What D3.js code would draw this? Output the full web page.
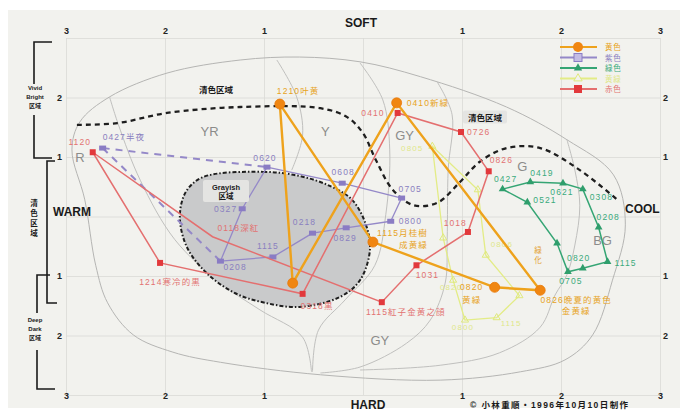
<!DOCTYPE html>
<html>
<head>
<meta charset="utf-8">
<script src="https://cdn.jsdelivr.net/npm/d3@7"></script>
<style>
  html, body { margin: 0; padding: 0; background: #ffffff; }
  svg { display: block; font-family: "Liberation Sans", "Noto Sans CJK JP", sans-serif; }
</style>
</head>
<body>
<svg id="chart" width="684" height="411"></svg>
<script>
// ---- axes: x runs WARM (-3) .. COOL (+3), y runs HARD (-3) .. SOFT (+3)
const tickValues = [-3, -2, -1, 0, 1, 2, 3];
const tickLabels = ["3", "2", "1", "", "1", "2", "3"];
const sideTickValues = [-2, -1, 1, 2];
const sideTickLabels = ["2", "1", "1", "2"];

// ---- legend
const seriesNames = ["黄色", "紫色", "緑色", "黄緑", "赤色"];

// ---- orange series (closed route)
const orangeX = [-0.84, -0.71, 0.34, 1.79, 1.33, 0.10];
const orangeY = [1.89, -1.12, 1.91, -1.24, -1.19, -0.43];
const orangeLabels = ["1210叶黄", "", "0410新緑", "0826晩夏的黄色\n金黄緑", "0820\n黄緑", "1115月桂樹\n成黄緑"];

// ---- red series (closed route)
const redX = [-2.73, -1.52, 0.19, 0.54, 1.06, 1.27, 0.99, 0.35, -0.61, -2.05];
const redY = [1.08, -0.34, -1.44, -0.82, -0.26, 0.76, 1.42, 1.74, -1.30, -0.78];
const redLabels = ["1120", "0118深紅", "1115紅子金黄之顔", "1031", "1018", "0826", "0726", "0410", "0318黒", "1214寒冷的黒"];
const redMarked = [true, false, true, true, true, true, true, true, true, true];

// ---- purple series (points + links, some links dashed)
const purpleX = [-2.63, -0.97, -1.22, -1.44, -0.91, -0.51, -0.17, 0.28, 0.39, -0.21];
const purpleY = [1.15, 0.83, 0.13, -0.75, -0.68, -0.28, -0.19, -0.08, 0.31, 0.56];
const purpleLabels = ["0427半夜", "0620", "0327", "0208", "1115", "0218", "0829", "0800", "0705", "0608"];
const purpleLinks = [[0, 1, true], [0, 3, true], [1, 2, false], [2, 3, false], [3, 4, false],
                     [4, 5, false], [5, 6, false], [6, 7, false], [7, 8, false], [8, 9, false], [9, 1, false]];

// ---- green series (closed route)
const greenX = [1.41, 1.69, 2.02, 2.22, 2.38, 2.47, 2.22, 2.07, 1.96, 1.66];
const greenY = [0.46, 0.58, 0.56, 0.46, -0.18, -0.76, -0.87, -0.93, -0.45, 0.24];
const greenLabels = ["0427", "0419", "0621", "0308", "0208", "1115", "0820", "0705", "", "0521"];

// ---- pale yellow-green series (closed route)
const yellowX = [0.70, 1.16, 1.24, 1.58, 1.35, 1.03, 0.91, 0.81];
const yellowY = [1.18, 0.45, -0.65, -1.33, -1.70, -1.74, -1.07, -0.36];
const yellowLabels = ["0805", "", "0806", "", "1115", "0800", "0820", ""];

// ---- tone / hue regions
const outerShape = [[-2.94,1.12],[-2.86,1.59],[-2.56,2.01],[-1.98,2.41],[-1.24,2.63],[-0.64,2.68],[-0.03,2.60],
  [0.58,2.35],[1.45,1.84],[2.06,1.29],[2.53,0.70],[2.65,-0.14],[2.52,-1.07],[2.32,-1.99],[2.04,-2.41],
  [1.59,-2.61],[0.78,-2.75],[-0.43,-2.66],[-1.44,-2.45],[-1.92,-2.28],[-2.32,-1.99],[-2.58,-1.45],
  [-2.70,-0.82],[-2.81,0.28]];
const hueBorders = [
  [[-2.56,2.01],[-2.47,1.54],[-2.25,0.61],[-1.90,-0.39],[-1.44,-1.12],[-1.04,-1.57],[-0.61,-2.03],[-0.52,-2.61]],
  [[-0.87,2.63],[-0.67,2.01],[-0.61,1.37],[-0.72,0.78]],
  [[-0.03,2.58],[0.20,1.96],[0.27,1.12],[0.23,0.03],[0.12,-0.82],[-0.18,-1.40],[-0.45,-1.91],[-0.51,-2.61]],
  [[0.75,2.26],[0.90,1.71],[0.86,0.78],[0.85,-0.39],[0.83,-1.12],[0.68,-1.74],[0.44,-2.13],[-0.03,-2.53],[-0.43,-2.63]],
  [[2.06,1.29],[2.14,0.78],[2.19,0.19],[2.14,-0.48],[2.06,-0.98],[1.94,-1.32],[1.79,-1.86],[1.38,-2.29],[0.78,-2.50],[-0.03,-2.58]]
];
const clearToneBorder = [[-2.89,1.54],[-2.48,1.57],[-1.98,1.74],[-1.24,1.84],[-0.43,1.82],[-0.16,1.67],[0.00,1.40],
  [0.13,0.95],[0.30,0.45],[0.51,0.19],[0.75,0.23],[0.98,0.58],[1.18,0.92],[1.45,1.15],[1.79,1.15],[2.19,0.78],[2.57,0.28]];
const grayishShape = [[-1.62,0.66],[-1.01,0.75],[-0.64,0.68],[-0.33,0.51],[-0.11,0.28],[0.03,-0.14],[0.07,-0.56],
  [-0.03,-1.07],[-0.23,-1.35],[-0.64,-1.52],[-0.99,-1.45],[-1.29,-1.29],[-1.58,-0.95],[-1.78,-0.51],[-1.85,0.00],[-1.79,0.41]];
const hueNames = ["R", "YR", "Y", "GY", "G", "BG", "GY"];
const hueAt = [[-2.86,1.00],[-1.55,1.44],[-0.38,1.44],[0.42,1.37],[1.61,0.85],[2.42,-0.39],[0.17,-2.08]];

// ---- label placement [dx, dy, anchor]
const orangeLabelPos = [[-3,-10,"start"],[0,0,"start"],[10,3,"start"],[36,13,"middle"],[-23,3,"middle"],[55,-6,"end"]];
const orangeLineGap = [0, 0, 0, 11, 13, 12];
const redLabelPos = [[-13,-7,"middle"],[5,-6,"start"],[24,13,"middle"],[11,13,"middle"],[-1,-6,"end"],
  [1,-8,"start"],[6,3,"start"],[-13,3,"end"],[-2,15,"start"],[10,22,"middle"]];
const purpleLabelPos = [[0,-8,"start"],[-2,-6,"middle"],[-5,3,"end"],[3,9,"start"],[-5,-8,"middle"],
  [-8,-8,"middle"],[-1,13,"middle"],[8,3,"start"],[-3,-6,"start"],[1,-8,"middle"]];
const greenLabelPos = [[3,-7,"middle"],[0,-6,"start"],[-1,12,"middle"],[7,11,"start"],[-2,-7,"start"],
  [7,4,"start"],[-4,-7,"middle"],[3,12,"middle"],[0,0,"start"],[6,1,"start"]];
const yellowLabelPos = [[-9,5,"end"],[0,0,"start"],[5,-8,"start"],[0,0,"start"],[4,8,"start"],[-2,10,"middle"],[-2,10,"middle"],[0,0,"start"]];

const svg = d3.select("#chart");
const x = d3.scaleLinear().domain([-3, 3]).range([66, 660]);
const y = d3.scaleLinear().domain([-3, 3]).range([395, 38]);

// paper
svg.append("rect").attr("x", 8).attr("y", 10).attr("width", 672).attr("height", 398).attr("fill", "#f2f2ee");

// grid
const gridX = svg.append("g").attr("transform", `translate(0,${y(-3)})`)
  .call(d3.axisBottom(x).tickValues(tickValues).tickSize(-(y(-3) - y(3))).tickFormat(""));
const gridY = svg.append("g").attr("transform", `translate(${x(-3)},0)`)
  .call(d3.axisLeft(y).tickValues(tickValues).tickSize(-(x(3) - x(-3))).tickFormat(""));
[gridX, gridY].forEach(g => {
  g.select(".domain").remove();
  g.selectAll("line").attr("stroke", "#d9d9d5").attr("stroke-width", 0.8);
});

// tick labels
function styleTicks(g) {
  g.select(".domain").remove();
  g.selectAll("text").attr("font-size", 9).attr("font-weight", "bold").attr("fill", "#222")
    .attr("font-family", "Liberation Sans, sans-serif");
}
svg.append("g").attr("transform", `translate(0,${y(3) - 1})`)
  .call(d3.axisTop(x).tickValues(tickValues).tickSize(0).tickPadding(3).tickFormat((d, i) => tickLabels[i])).call(styleTicks);
svg.append("g").attr("transform", `translate(0,${y(-3) - 2})`)
  .call(d3.axisBottom(x).tickValues(tickValues).tickSize(0).tickPadding(0).tickFormat((d, i) => tickLabels[i])).call(styleTicks);
svg.append("g").attr("transform", `translate(${x(-3) - 2},0)`)
  .call(d3.axisLeft(y).tickValues(sideTickValues).tickSize(0).tickPadding(2).tickFormat((d, i) => sideTickLabels[i])).call(styleTicks);
svg.append("g").attr("transform", `translate(${x(3) + 1},0)`)
  .call(d3.axisRight(y).tickValues(sideTickValues).tickSize(0).tickPadding(2).tickFormat((d, i) => sideTickLabels[i])).call(styleTicks);

const smooth = d3.line().x(d => x(d[0])).y(d => y(d[1])).curve(d3.curveCatmullRom.alpha(0.5));
const smoothClosed = d3.line().x(d => x(d[0])).y(d => y(d[1])).curve(d3.curveCatmullRomClosed.alpha(0.5));

// hue / tone map outlines
svg.append("path").attr("d", smoothClosed(outerShape)).attr("fill", "none").attr("stroke", "#b5b5b3").attr("stroke-width", 1);
hueBorders.forEach(b => svg.append("path").attr("d", smooth(b)).attr("fill", "none").attr("stroke", "#c0c0be").attr("stroke-width", 1));

// grayish zone
svg.append("path").attr("d", smoothClosed(grayishShape)).attr("fill", "#c9cacb")
  .attr("stroke", "#1e1e1e").attr("stroke-width", 2).attr("stroke-dasharray", "4,2,1.5,2");

// hue letters
hueNames.forEach((h, i) => {
  svg.append("text").attr("x", x(hueAt[i][0])).attr("y", y(hueAt[i][1]) + 5).attr("text-anchor", "middle")
    .attr("font-size", 13).attr("fill", "#8c8c8a").text(h);
});

// clear-tone boundary
svg.append("path").attr("d", smooth(clearToneBorder)).attr("fill", "none").attr("stroke", "#1e1e1e")
  .attr("stroke-width", 2.3).attr("stroke-dasharray", "5,4");

function addLabel(px, py, text, pos, gap, color, size) {
  const lines = text.split("\n");
  lines.forEach((ln, k) => {
    svg.append("text").attr("x", px + pos[0]).attr("y", py + pos[1] + k * (gap || 11))
      .attr("text-anchor", pos[2]).attr("font-size", size || 8.5).attr("letter-spacing", 1.1)
      .attr("fill", color).text(ln);
  });
}

// pale yellow-green
const yellowPts = yellowX.map((v, i) => [v, yellowY[i]]);
svg.append("path").attr("d", d3.line().x(d => x(d[0])).y(d => y(d[1])).curve(d3.curveLinearClosed)(yellowPts))
  .attr("fill", "none").attr("stroke", "#e3ec86").attr("stroke-width", 1.3);
yellowPts.forEach((p, i) => {
  svg.append("path").attr("d", d3.symbol(d3.symbolTriangle, 22)()).attr("transform", `translate(${x(p[0])},${y(p[1])})`)
    .attr("fill", "none").attr("stroke", "#dfe97c").attr("stroke-width", 1);
  if (yellowLabels[i]) addLabel(x(p[0]), y(p[1]), yellowLabels[i], yellowLabelPos[i], 11, "#dfe78a", 8);
});

// purple
const purplePts = purpleX.map((v, i) => [v, purpleY[i]]);
purpleLinks.forEach(([a, b, dashed]) => {
  svg.append("line").attr("x1", x(purplePts[a][0])).attr("y1", y(purplePts[a][1]))
    .attr("x2", x(purplePts[b][0])).attr("y2", y(purplePts[b][1]))
    .attr("stroke", "#9488c8").attr("stroke-width", dashed ? 2 : 1.3)
    .attr("stroke-dasharray", dashed ? "7,6" : null);
});
purplePts.forEach((p, i) => {
  svg.append("rect").attr("x", x(p[0]) - 3.5).attr("y", y(p[1]) - 2.5).attr("width", 7).attr("height", 5)
    .attr("fill", "#8a7cc4");
  addLabel(x(p[0]), y(p[1]), purpleLabels[i], purpleLabelPos[i], 11, "#8a80c0");
});

// red
const redPts = redX.map((v, i) => [v, redY[i]]);
svg.append("path").attr("d", d3.line().x(d => x(d[0])).y(d => y(d[1])).curve(d3.curveLinearClosed)(redPts))
  .attr("fill", "none").attr("stroke", "#e46f6f").attr("stroke-width", 1.5);
redPts.forEach((p, i) => {
  if (redMarked[i]) svg.append("rect").attr("x", x(p[0]) - 3).attr("y", y(p[1]) - 3).attr("width", 6).attr("height", 6)
    .attr("fill", "#e2393c");
  addLabel(x(p[0]), y(p[1]), redLabels[i], redLabelPos[i], 11, "#e27272");
});

// green
const greenPts = greenX.map((v, i) => [v, greenY[i]]);
svg.append("path").attr("d", d3.line().x(d => x(d[0])).y(d => y(d[1])).curve(d3.curveLinearClosed)(greenPts))
  .attr("fill", "none").attr("stroke", "#35a574").attr("stroke-width", 1.5);
greenPts.forEach((p, i) => {
  svg.append("path").attr("d", d3.symbol(d3.symbolTriangle, 26)()).attr("transform", `translate(${x(p[0])},${y(p[1])})`)
    .attr("fill", "#2f9e6c");
  if (greenLabels[i]) addLabel(x(p[0]), y(p[1]), greenLabels[i], greenLabelPos[i], 11, "#3aaa7c");
});

// orange
const orangePts = orangeX.map((v, i) => [v, orangeY[i]]);
svg.append("path").attr("d", d3.line().x(d => x(d[0])).y(d => y(d[1])).curve(d3.curveLinearClosed)(orangePts))
  .attr("fill", "none").attr("stroke", "#eea21c").attr("stroke-width", 2.4);
orangePts.forEach((p, i) => {
  svg.append("circle").attr("cx", x(p[0])).attr("cy", y(p[1])).attr("r", 5)
    .attr("fill", "#f08612").attr("stroke", "#e87a0a").attr("stroke-width", 0.8);
  if (orangeLabels[i]) addLabel(x(p[0]), y(p[1]), orangeLabels[i], orangeLabelPos[i], orangeLineGap[i], "#e7a222", 8.5);
});
svg.append("text").attr("x", 538).attr("y", 253).attr("text-anchor", "middle").attr("font-size", 7.5).attr("fill", "#e3a030").text("緑");
svg.append("text").attr("x", 538).attr("y", 263).attr("text-anchor", "middle").attr("font-size", 7.5).attr("fill", "#e3a030").text("化");

// zone captions
function caption(cx, cy, lines, size, boxed) {
  const g = svg.append("g");
  if (boxed) g.append("rect").attr("x", cx - boxed[0] / 2).attr("y", cy - boxed[1] / 2 - 1)
    .attr("width", boxed[0]).attr("height", boxed[1]).attr("fill", "#e4e4e2").attr("rx", 2);
  lines.forEach((ln, k) => g.append("text").attr("x", cx).attr("y", cy + (k - (lines.length - 1) / 2) * (size + 1) + size * 0.35)
    .attr("text-anchor", "middle").attr("font-size", size).attr("font-weight", "bold").attr("fill", "#1a1a1a").text(ln));
}
caption(216, 90, ["清色区域"], 8.5, null);
caption(485, 118, ["清色区域"], 8.5, [44, 13]);
caption(226, 192, ["Grayish", "区域"], 7.5, [46, 22]);

// axis titles
svg.append("text").attr("x", 361).attr("y", 27).attr("text-anchor", "middle").attr("font-size", 12).attr("font-weight", "bold").attr("fill", "#1a1a1a").text("SOFT");
svg.append("text").attr("x", 368).attr("y", 409).attr("text-anchor", "middle").attr("font-size", 12).attr("font-weight", "bold").attr("fill", "#1a1a1a").text("HARD");
svg.append("text").attr("x", 53).attr("y", 216).attr("font-size", 12).attr("font-weight", "bold").attr("fill", "#1a1a1a").text("WARM");
svg.append("text").attr("x", 625).attr("y", 213).attr("font-size", 12).attr("font-weight", "bold").attr("fill", "#1a1a1a").text("COOL");
svg.append("text").attr("x", 470).attr("y", 408).attr("font-size", 8.5).attr("letter-spacing", 1.4).attr("font-weight", "bold").attr("fill", "#1a1a1a").text("© 小林重順・1996年10月10日制作");

// tone brackets on the left
const bracket = svg.append("g").attr("fill", "none").attr("stroke", "#1a1a1a").attr("stroke-width", 1.6);
bracket.append("path").attr("d", "M52,42 H34 V84 M34,115 V158 H52");
bracket.append("path").attr("d", "M55,161 H47 V303 H57");
bracket.append("path").attr("d", "M50,275 H37 V313 M37,350 V389 H55");
[["Vivid", 90], ["Bright", 99], ["区域", 108]].forEach(([t, yy]) =>
  svg.append("text").attr("x", 35).attr("y", yy).attr("text-anchor", "middle").attr("font-size", 6).attr("font-weight", "bold").attr("fill", "#1a1a1a").text(t));
[["Deep", 322], ["Dark", 331], ["区域", 340]].forEach(([t, yy]) =>
  svg.append("text").attr("x", 35).attr("y", yy).attr("text-anchor", "middle").attr("font-size", 6).attr("font-weight", "bold").attr("fill", "#1a1a1a").text(t));
["清", "色", "区", "域"].forEach((t, k) =>
  svg.append("text").attr("x", 34).attr("y", 206 + k * 10).attr("text-anchor", "middle").attr("font-size", 7.5).attr("font-weight", "bold").attr("fill", "#1a1a1a").text(t));

// legend
const legendColors = ["#eea21c", "#9488c8", "#35a574", "#e3ec86", "#e46f6f"];
const legendText = ["#e7a222", "#8a80c0", "#3aaa7c", "#dfe78a", "#e27272"];
seriesNames.forEach((name, i) => {
  const ly = 47 + i * 10.5;
  const g = svg.append("g");
  g.append("line").attr("x1", 560).attr("x2", 597).attr("y1", ly).attr("y2", ly).attr("stroke", legendColors[i]).attr("stroke-width", 2);
  if (i === 0) g.append("circle").attr("cx", 578).attr("cy", ly).attr("r", 5).attr("fill", "#f08612");
  if (i === 1) g.append("rect").attr("x", 574).attr("y", ly - 4).attr("width", 8).attr("height", 8).attr("fill", "#c4bce4").attr("stroke", "#8a7cc4");
  if (i === 2) g.append("path").attr("d", d3.symbol(d3.symbolTriangle, 30)()).attr("transform", `translate(578,${ly})`).attr("fill", "#2f9e6c");
  if (i === 3) g.append("path").attr("d", d3.symbol(d3.symbolTriangle, 30)()).attr("transform", `translate(578,${ly})`).attr("fill", "#f2f2ee").attr("stroke", "#dfe97c");
  if (i === 4) g.append("rect").attr("x", 574).attr("y", ly - 4).attr("width", 8).attr("height", 8).attr("fill", "#e2393c");
  g.append("text").attr("x", 605).attr("y", ly + 3).attr("font-size", 7.5).attr("letter-spacing", 0.8).attr("fill", legendText[i]).text(name);
});
</script>
</body>
</html>
